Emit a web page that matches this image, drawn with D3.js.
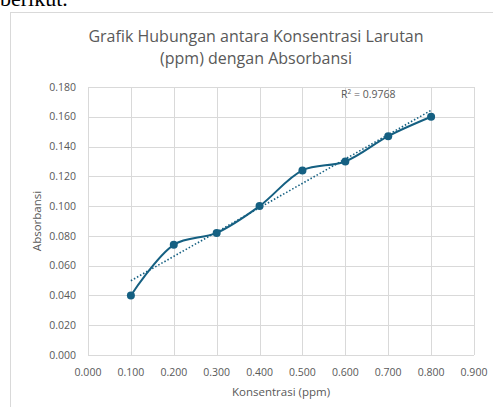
<!DOCTYPE html>
<html>
<head>
<meta charset="utf-8">
<script src="https://cdn.jsdelivr.net/npm/d3@7"></script>
<style>
  body { margin: 0; background: #fff; }
  svg text { font-family: "Open Sans", "Noto Sans", sans-serif; fill: #595959; }
</style>
</head>
<body>
<svg class="chart"></svg>
<script>
const size = {w: 493, h: 407};

// data
const konsentrasi = [0.1, 0.2, 0.3, 0.4, 0.5, 0.6, 0.7, 0.8];
const absorbansi = [0.040, 0.074, 0.082, 0.100, 0.124, 0.130, 0.147, 0.160];
const xTicks = [0, 0.1, 0.2, 0.3, 0.4, 0.5, 0.6, 0.7, 0.8, 0.9];
const yTicks = [0, 0.02, 0.04, 0.06, 0.08, 0.1, 0.12, 0.14, 0.16, 0.18];
const titleLines = ['Grafik  Hubungan antara Konsentrasi Larutan', '(ppm) dengan Absorbansi'];
const r2Label = '0.9768';

const margin = {left: 88, right: 19, top: 87, bottom: 52};

const svg = d3.select('svg.chart')
    .attr('width', size.w)
    .attr('height', size.h);

// leftover text from the document above the chart
svg.append('text')
    .attr('x', 0).attr('y', 6)
    .style('font-family', '"Liberation Serif", serif')
    .style('font-size', '22px')
    .style('fill', '#000')
    .text('berikut.');

// chart frame
svg.append('rect')
    .attr('x', 10.5).attr('y', 12.5)
    .attr('width', 500).attr('height', 420)
    .attr('fill', 'none')
    .attr('stroke', '#d9d9d9');

const x = d3.scaleLinear().domain([0, 0.9]).range([margin.left, size.w - margin.right]);
const y = d3.scaleLinear().domain([0, 0.18]).range([size.h - margin.bottom, margin.top]);

// gridlines
svg.append('g').selectAll('line.h')
    .data(yTicks).join('line')
    .attr('x1', x(0)).attr('x2', x(0.9))
    .attr('y1', d => Math.round(y(d)) + 0.5).attr('y2', d => Math.round(y(d)) + 0.5)
    .attr('stroke', '#d9d9d9');
svg.append('g').selectAll('line.v')
    .data(xTicks).join('line')
    .attr('y1', y(0)).attr('y2', y(0.18))
    .attr('x1', d => Math.round(x(d)) + 0.5).attr('x2', d => Math.round(x(d)) + 0.5)
    .attr('stroke', '#d9d9d9');

// tick labels
svg.append('g').selectAll('text')
    .data(yTicks).join('text')
    .attr('x', x(0) - 12)
    .attr('y', d => y(d))
    .attr('dy', '0.35em')
    .attr('text-anchor', 'end')
    .style('font-size', '10.5px')
    .text(d => d3.format('.3f')(d));
svg.append('g').selectAll('text')
    .data(xTicks).join('text')
    .attr('x', d => x(d))
    .attr('y', y(0) + 17)
    .attr('dy', '0.35em')
    .attr('text-anchor', 'middle')
    .style('font-size', '10.5px')
    .text(d => d3.format('.3f')(d));

// axis titles
svg.append('text')
    .attr('x', (x(0) + x(0.9)) / 2)
    .attr('y', y(0) + 37)
    .attr('dy', '0.35em')
    .attr('text-anchor', 'middle')
    .style('font-size', '11.5px')
    .text('Konsentrasi (ppm)');
svg.append('text')
    .attr('transform', `translate(37,${(y(0) + y(0.18)) / 2}) rotate(-90)`)
    .attr('dy', '0.35em')
    .attr('text-anchor', 'middle')
    .style('font-size', '11.5px')
    .text('Absorbansi');

// title
svg.append('g').selectAll('text')
    .data(titleLines).join('text')
    .attr('x', 256)
    .attr('y', (d, i) => 36 + i * 22)
    .attr('dy', '0.35em')
    .attr('text-anchor', 'middle')
    .style('font-size', '16px')
    .text(d => d);

// linear trendline (least squares)
const xm = d3.mean(konsentrasi), ym = d3.mean(absorbansi);
const slope = d3.sum(konsentrasi, (v, i) => (v - xm) * (absorbansi[i] - ym)) /
    d3.sum(konsentrasi, v => (v - xm) * (v - xm));
const icpt = ym - slope * xm;
const xr = d3.extent(konsentrasi);
svg.append('line')
    .attr('x1', x(xr[0])).attr('y1', y(icpt + slope * xr[0]))
    .attr('x2', x(xr[1])).attr('y2', y(icpt + slope * xr[1]))
    .attr('stroke', '#156082')
    .attr('stroke-width', 1.6)
    .attr('stroke-dasharray', '1.5,2');

// smoothed series line
const pts = konsentrasi.map((v, i) => [v, absorbansi[i]]);
svg.append('path')
    .datum(pts)
    .attr('d', d3.line().x(d => x(d[0])).y(d => y(d[1])).curve(d3.curveCatmullRom.alpha(0.5)))
    .attr('fill', 'none')
    .attr('stroke', '#156082')
    .attr('stroke-width', 2);

svg.append('g').selectAll('circle')
    .data(pts).join('circle')
    .attr('cx', d => x(d[0]))
    .attr('cy', d => y(d[1]))
    .attr('r', 4)
    .attr('fill', '#156082');

// R squared label
const r2 = svg.append('text')
    .attr('x', 341).attr('y', 94)
    .attr('dy', '0.35em')
    .style('font-size', '10.5px');
r2.append('tspan').text('R');
r2.append('tspan').attr('dy', '-4').style('font-size', '6.5px').text('2');
r2.append('tspan').attr('dy', '4').text(' = ' + r2Label);
</script>
</body>
</html>
